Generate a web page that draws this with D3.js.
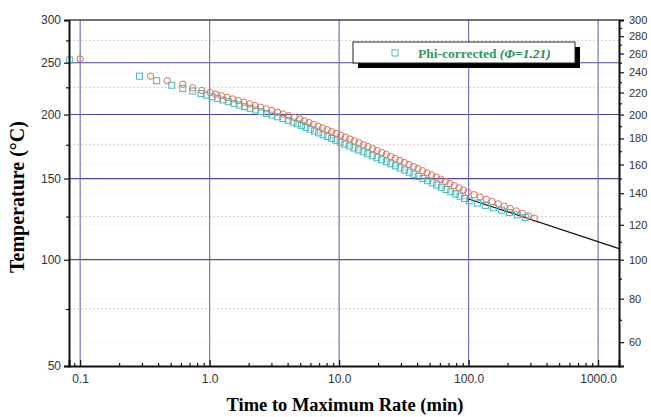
<!DOCTYPE html>
<html>
<head>
<meta charset="utf-8">
<script src="https://cdn.jsdelivr.net/npm/d3@7"></script>
<style>
  body { margin: 0; background: #fff; }
  svg { display: block; }
</style>
</head>
<body>
<svg id="svg"></svg>
<script>
// red circles (uncorrected)
const redTime = [0.1, 0.35, 0.47, 0.62, 0.74, 0.87,
  1.01, 1.117, 1.233, 1.363, 1.505, 1.663, 1.837, 2.029, 2.242, 2.476, 2.736, 3.022, 3.339, 3.688, 4.074, 4.501, 4.964,
  5.387, 5.847, 6.332, 6.873, 7.443, 8.078, 8.752, 9.497, 10.29, 11.17, 12.09, 13.11, 14.22, 15.40, 16.72, 18.11, 19.65,
  21.29, 23.11, 25.03, 27.16, 29.43, 31.87, 34.59, 37.48, 40.67, 44.06, 47.81, 51.81, 56.21, 60.90, 66.09, 71.59, 77.56,
  84.19, 91.18, 98.76, 110.3, 122.7, 136.5, 152.2, 169.3, 188.3, 209.5, 233.2, 259.4, 289.1, 321.6];
const redTemp = [254, 236, 231.5, 228, 224.5, 222,
  220, 218.5, 217, 215.5, 214, 212.5, 211, 209.5, 208, 206.5, 205, 203.5, 202, 200.5, 199, 197.5, 196,
  194.5, 193, 191.5, 190, 188.5, 187, 185.5, 184, 182.5, 181, 179.5, 178, 176.5, 175, 173.5, 172, 170.5,
  169, 167.5, 166, 164.5, 163, 161.5, 160, 158.5, 157, 155.5, 154, 152.5, 151, 149.5, 148, 146.5, 145,
  143.5, 142, 140.5, 139, 137.5, 136, 134.5, 133, 131.5, 130, 128.5, 127, 125.5, 124];

// cyan squares (phi-corrected)
const cyanTime = [0.083, 0.287, 0.39, 0.51, 0.62, 0.74, 0.86,
  0.948, 1.043, 1.149, 1.267, 1.394, 1.538, 1.693, 1.866, 2.054, 2.266, 2.494, 2.750, 3.027, 3.333, 3.675, 4.045,
  4.406, 4.756, 5.126, 5.533, 5.973, 6.447, 6.959, 7.510, 8.108, 8.752, 9.447, 10.20,
  11.05, 11.99, 13.01, 14.12, 15.32, 16.63, 18.05, 19.58, 21.25, 23.11, 25.07, 27.21, 29.53, 32.04, 34.77, 37.74,
  40.96, 44.45, 48.24, 52.36, 56.81, 61.66, 66.92, 72.74, 78.95, 85.69, 92.96, 100.9,
  117.3, 135.3, 155.7, 179.6, 206.6, 238.2, 274.0];
const cyanTemp = [253, 236, 231.5, 227, 224, 221.5, 219,
  217.5, 216, 214.5, 213, 211.5, 210, 208.5, 207, 205.5, 204, 202.5, 201, 199.5, 198, 196.5, 195,
  193.5, 192, 190.5, 189, 187.5, 186, 184.5, 183, 181.5, 180, 178.5, 177,
  175.5, 174, 172.5, 171, 169.5, 168, 166.5, 165, 163.5, 162, 160.5, 159, 157.5, 156, 154.5, 153,
  151.5, 150, 148.5, 147, 145.5, 144, 142.5, 141, 139.5, 138, 136.5, 135,
  133.5, 132, 130.5, 129, 127.5, 126, 124.5];

// black extrapolation line
const fitTime = [100, 1450];
const fitTemp = [136.2, 106.1];

// ticks
const xTicks = [0.1, 1, 10, 100, 1000];
const leftTicks = [50, 100, 150, 200, 250, 300];
const leftMinor = [75, 125, 175, 225, 275];
const rightTicks = [60, 80, 100, 120, 140, 160, 180, 200, 220, 240, 260, 280, 300];
const rightMinor = [50, 70, 90, 110, 130, 150, 170, 190, 210, 230, 250, 270, 290];
const hGrid = [100, 150, 200, 250];

const W = 651, H = 417;
const mLeft = 69, mRight = 619, mTop = 20, mBottom = 366;

const svg = d3.select('#svg').attr('width', W).attr('height', H);

const xScale = d3.scaleLog().domain([0.082, 1450]).range([mLeft, mRight]);
// temperature axis is linear in 1/T (K)
const inv = T => 1 / (T + 273.15);
const uScale = d3.scaleLinear().domain([inv(300), inv(50)]).range([mTop, mBottom]);
const yPos = T => uScale(inv(T));

// minor dotted grid
const minorGrid = svg.append('g');
leftMinor.forEach(T => {
  minorGrid.append('line')
    .attr('x1', mLeft).attr('x2', mRight)
    .attr('y1', yPos(T)).attr('y2', yPos(T))
    .attr('stroke', '#dccbd6').attr('stroke-dasharray', '2,2');
});
rightTicks.filter(T => T % 50 !== 0).forEach(T => {
  minorGrid.append('line')
    .attr('x1', mLeft).attr('x2', mRight)
    .attr('y1', yPos(T)).attr('y2', yPos(T))
    .attr('stroke', '#e4e4ee').attr('stroke-dasharray', '1,3');
});

// major grid
svg.append('g').selectAll('line')
  .data(hGrid).enter().append('line')
  .attr('x1', mLeft).attr('x2', mRight)
  .attr('y1', d => yPos(d)).attr('y2', d => yPos(d))
  .attr('stroke', '#4a4aa0').attr('stroke-width', 1.2);
svg.append('g').selectAll('line')
  .data(xTicks).enter().append('line')
  .attr('x1', d => xScale(d)).attr('x2', d => xScale(d))
  .attr('y1', mTop).attr('y2', mBottom)
  .attr('stroke', '#6a6ab0').attr('stroke-width', 1.1);

// fit line
svg.append('path')
  .datum(fitTime.map((t, i) => [t, fitTemp[i]]))
  .attr('d', d3.line().x(d => xScale(d[0])).y(d => yPos(d[1])))
  .attr('stroke', '#111').attr('stroke-width', 1.2).attr('fill', 'none');

// cyan squares
svg.append('g').selectAll('rect')
  .data(cyanTime.map((t, i) => [t, cyanTemp[i]]))
  .enter().append('rect')
  .attr('x', d => xScale(d[0]) - 3)
  .attr('y', d => yPos(d[1]) - 3)
  .attr('width', 6).attr('height', 6)
  .attr('fill', 'none')
  .attr('stroke', '#48baba').attr('stroke-width', 1);

// red circles
svg.append('g').selectAll('circle')
  .data(redTime.map((t, i) => [t, redTemp[i]]))
  .enter().append('circle')
  .attr('cx', d => xScale(d[0]))
  .attr('cy', d => yPos(d[1]))
  .attr('r', 3.2)
  .attr('fill', 'none')
  .attr('stroke', '#e06e55').attr('stroke-width', 1);

// AXES
const fmtT = u => Math.round(1 / u - 273.15);

svg.append('g')
  .attr('class', 'left-axis')
  .attr('transform', `translate(${mLeft},0)`)
  .call(d3.axisLeft(uScale).tickValues(leftTicks.map(inv)).tickFormat(fmtT).tickSize(5).tickPadding(3));
svg.append('g')
  .attr('transform', `translate(${mLeft},0)`)
  .call(d3.axisLeft(uScale).tickValues(leftMinor.map(inv)).tickFormat('').tickSize(3))
  .select('.domain').remove();

svg.append('g')
  .attr('class', 'right-axis')
  .attr('transform', `translate(${mRight},0)`)
  .call(d3.axisRight(uScale).tickValues(rightTicks.map(inv)).tickFormat(fmtT).tickSize(5).tickPadding(5));
svg.append('g')
  .attr('transform', `translate(${mRight},0)`)
  .call(d3.axisRight(uScale).tickValues(rightMinor.map(inv)).tickFormat('').tickSize(3))
  .select('.domain').remove();

const xMinor = [];
[0.01, 0.1, 1, 10, 100].forEach(dec => {
  for (let k = 2; k <= 9; k++) {
    const v = dec * k;
    if (v > 0.082 && v < 1450) xMinor.push(v);
  }
});
svg.append('g')
  .attr('transform', `translate(0,${mBottom})`)
  .call(d3.axisBottom(xScale).tickValues(xTicks).tickFormat(d3.format('.1f')).tickSize(-6).tickPadding(8));
svg.append('g')
  .attr('transform', `translate(0,${mBottom})`)
  .call(d3.axisBottom(xScale).tickValues(xMinor).tickFormat('').tickSize(-3))
  .select('.domain').remove();

// frame
svg.append('line').attr('x1', mLeft).attr('x2', mRight).attr('y1', mTop).attr('y2', mTop)
  .attr('stroke', '#444').attr('stroke-width', 1.5);

svg.selectAll('.domain').attr('stroke', '#111').attr('stroke-width', 2);
svg.selectAll('.tick line').attr('stroke', '#111').attr('stroke-width', 1.2);
svg.selectAll('.tick text')
  .attr('font-family', 'Liberation Sans, Arial, sans-serif')
  .attr('font-size', 12)
  .attr('fill', '#333');
svg.selectAll('.right-axis .tick text').attr('font-size', 11);

// axis labels
svg.append('text')
  .attr('text-anchor', 'middle')
  .attr('font-family', 'Liberation Serif, Times New Roman, serif')
  .attr('font-weight', 'bold')
  .attr('font-size', 18.5)
  .attr('x', 345).attr('y', 411)
  .text('Time to Maximum Rate (min)');

svg.append('text')
  .attr('text-anchor', 'middle')
  .attr('font-family', 'Liberation Serif, Times New Roman, serif')
  .attr('font-weight', 'bold')
  .attr('font-size', 20)
  .attr('transform', 'translate(24,197) rotate(-90)')
  .text('Temperature (°C)');

// legend
const lg = svg.append('g');
lg.append('rect').attr('x', 358).attr('y', 47).attr('width', 222).attr('height', 21).attr('fill', '#000');
lg.append('rect').attr('x', 353).attr('y', 42).attr('width', 222).attr('height', 21)
  .attr('fill', '#fff').attr('stroke', '#222').attr('stroke-width', 1);
lg.append('rect').attr('x', 392).attr('y', 50).attr('width', 6).attr('height', 6)
  .attr('fill', 'none').attr('stroke', '#48baba');
const lt = lg.append('text')
  .attr('x', 418).attr('y', 57.5)
  .attr('font-family', 'Liberation Serif, Times New Roman, serif')
  .attr('font-weight', 'bold')
  .attr('font-size', 13.5)
  .attr('fill', '#2e9a5e');
lt.append('tspan').text('Phi-corrected ');
lt.append('tspan').attr('font-style', 'italic').attr('fill', '#2a8a55').text('(Φ=1.21)');
</script>
</body>
</html>
